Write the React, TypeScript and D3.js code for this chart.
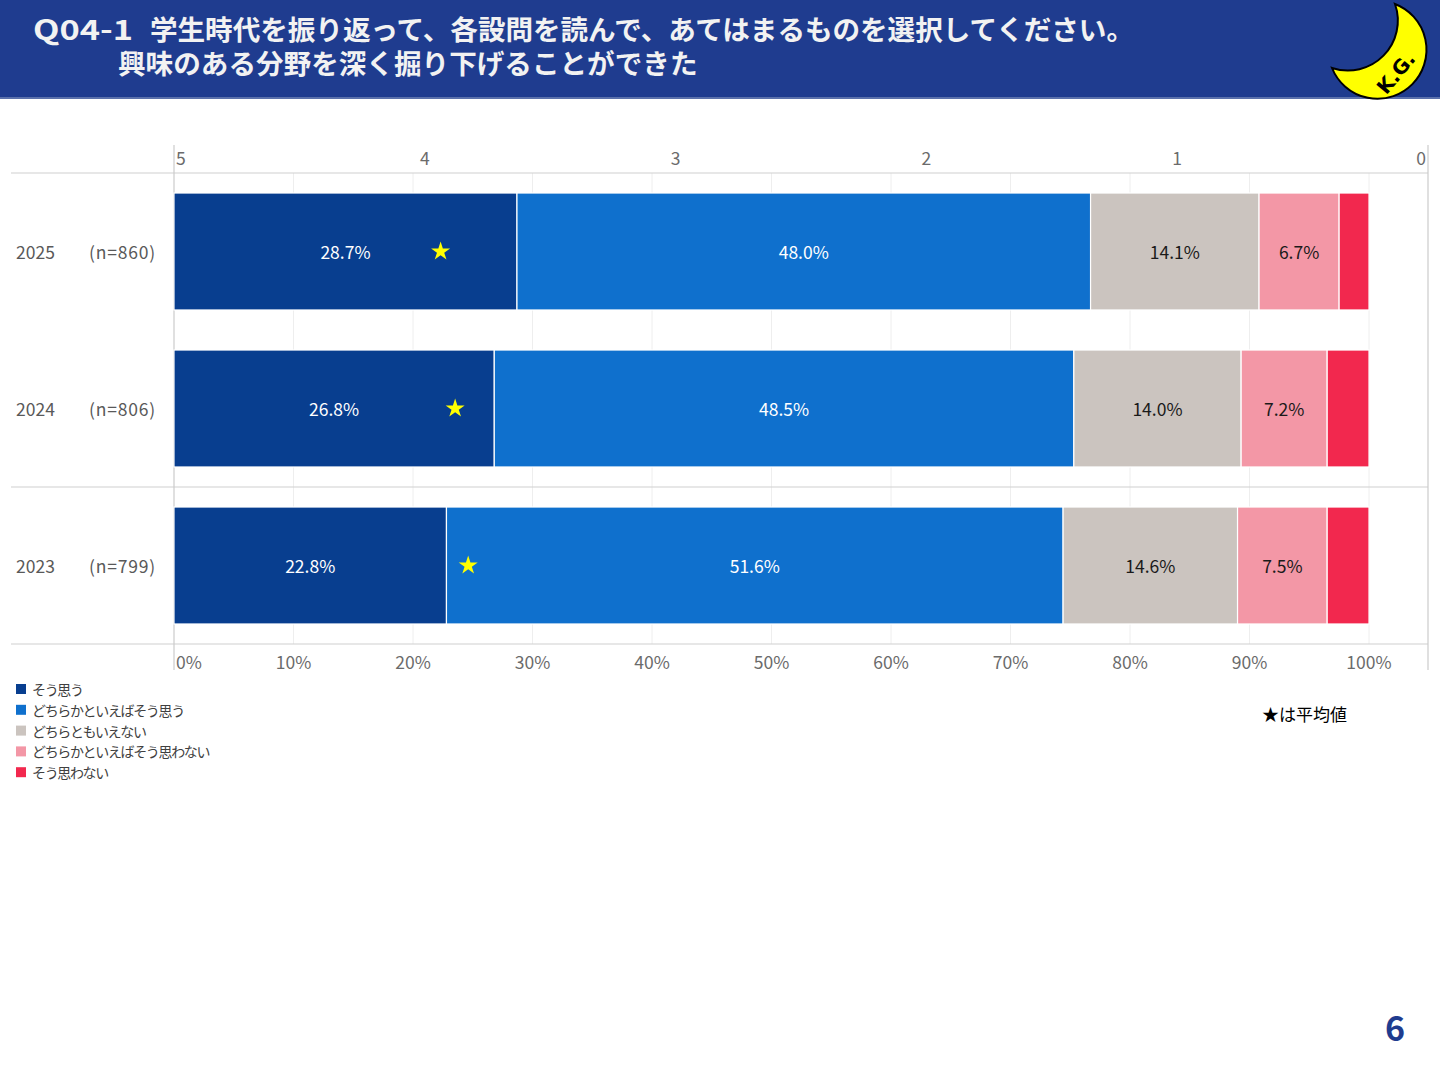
import React from "react";
import * as d3 from "d3";

const years = ["2025", "2024", "2023"];
const sampleSizes = ["(n=860)", "(n=806)", "(n=799)"];
const categories = [
  "そう思う",
  "どちらかといえばそう思う",
  "どちらともいえない",
  "どちらかといえばそう思わない",
  "そう思わない",
];
const scoreOf = [5, 4, 3, 2, 1];
const souOmou = [28.7, 26.8, 22.8];
const dochiraSou = [48.0, 48.5, 51.6];
const dochiraTomo = [14.1, 14.0, 14.6];
const dochiraNot = [6.7, 7.2, 7.5];
const souNot = [2.5, 3.5, 3.5];
const seriesValues = [souOmou, dochiraSou, dochiraTomo, dochiraNot, souNot];
const colors = ["#083e8f", "#0f70cd", "#cbc4bf", "#f397a6", "#f2284e"];
const labelColors = ["#ffffff", "#ffffff", "#1a1a1a", "#1a1a1a", "#1a1a1a"];
const pctTicks = [0, 10, 20, 30, 40, 50, 60, 70, 80, 90, 100];
const scoreTicks = [5, 4, 3, 2, 1, 0];

const FONT = "'Noto Sans CJK JP', 'Noto Sans', sans-serif";

export default function App() {
  const x = d3.scaleLinear().domain([0, 100]).range([174, 1369]);
  const xScore = d3.scaleLinear().domain([5, 0]).range([174, 1428]);
  const y = d3
    .scaleBand<string>()
    .domain(years)
    .range([173, 644])
    .paddingInner(0.255)
    .paddingOuter(0.1275);

  const rows = years.map((yr, i) => {
    const vals = seriesValues.map((s) => s[i]);
    const starts: number[] = [];
    let acc = 0;
    vals.forEach((v) => {
      starts.push(acc);
      acc += v;
    });
    const total = acc;
    const mean = d3.sum(vals.map((v, k) => v * scoreOf[k])) / total;
    return { yr, vals, starts, mean };
  });

  const star = d3.symbol().type(d3.symbolStar).size(112)();

  // crescent moon logo
  const tipTop = [1395, 4];
  const tipLeft = [1332, 68];
  const moonPath = `M${tipTop[0]},${tipTop[1]} A49,49 0 1 1 ${tipLeft[0]},${tipLeft[1]} A50,50 0 0 0 ${tipTop[0]},${tipTop[1]} Z`;

  return (
    <svg
      width={1440}
      height={1080}
      style={{ position: "absolute", left: 0, top: 0, background: "#ffffff" }}
      fontFamily={FONT}
    >
      <rect x={0} y={0} width={1440} height={1080} fill="#ffffff" />
      {/* header */}
      <rect x={0} y={0} width={1440} height={98} fill="#1f3c8f" />
      <rect x={0} y={97} width={1440} height={2} fill="#5b71ab" />
      <text x={33} y={40} fontSize={28} fontWeight="bold" fill="#f2f2f2" textLength={100} lengthAdjust="spacingAndGlyphs">
        Q04-1
      </text>
      <text x={150} y={40} fontSize={27.6} fontWeight="bold" fill="#f2f2f2" textLength={984} lengthAdjust="spacing">
        学生時代を振り返って、各設問を読んで、あてはまるものを選択してください。
      </text>
      <text x={118} y={74} fontSize={27.6} fontWeight="bold" fill="#f2f2f2">
        興味のある分野を深く掘り下げることができた
      </text>
      <path d={moonPath} fill="#ffff00" stroke="#000000" strokeWidth={2} />
      <text
        x={1396}
        y={73}
        fontSize={20}
        fontWeight="bold"
        fill="#000000"
        textAnchor="middle"
        dominantBaseline="central"
        fontFamily="'DejaVu Sans', sans-serif"
        transform="rotate(-50 1396 73)"
      >
        K.G.
      </text>

      {/* gridlines */}
      {pctTicks.slice(1).map((t) => (
        <line key={"g" + t} x1={x(t)} x2={x(t)} y1={173} y2={644} stroke="#eeeeee" strokeWidth={1} />
      ))}

      {/* frame lines */}
      {[173, 487, 644].map((yy) => (
        <line key={"h" + yy} x1={11} x2={1428} y1={yy} y2={yy} stroke="#d0d0d0" strokeWidth={1.2} />
      ))}
      <line x1={174} x2={174} y1={145} y2={670} stroke="#cccccc" strokeWidth={1.2} />
      <line x1={1428} x2={1428} y1={145} y2={670} stroke="#cccccc" strokeWidth={1.2} />

      {/* top axis */}
      {scoreTicks.map((t, i) => (
        <text
          key={"s" + t}
          x={i === 0 ? xScore(t) + 2 : i === scoreTicks.length - 1 ? xScore(t) - 2 : xScore(t)}
          y={157}
          fontSize={17.5}
          fill="#6b6b6b"
          dominantBaseline="central"
          textAnchor={i === 0 ? "start" : i === scoreTicks.length - 1 ? "end" : "middle"}
        >
          {t}
        </text>
      ))}

      {/* bottom axis */}
      {pctTicks.map((t, i) => (
        <text
          key={"p" + t}
          x={i === 0 ? x(t) + 2 : x(t)}
          y={661}
          fontSize={17.5}
          fill="#6b6b6b"
          dominantBaseline="central"
          textAnchor={i === 0 ? "start" : "middle"}
        >
          {t}%
        </text>
      ))}

      {/* bars */}
      {rows.map((r, i) => {
        const y0 = y(r.yr) as number;
        const bw = y.bandwidth();
        const cy = y0 + bw / 2;
        return (
          <g key={r.yr}>
            <text x={16} y={cy} fontSize={17.5} fill="#595959" dominantBaseline="central">
              {r.yr}
            </text>
            <text x={89} y={cy} fontSize={17.5} fill="#595959" dominantBaseline="central" letterSpacing={0.8}>
              {sampleSizes[i]}
            </text>
            {r.vals.map((v, k) => (
              <rect
                key={k}
                x={x(r.starts[k])}
                y={y0}
                width={x(r.starts[k] + v) - x(r.starts[k])}
                height={bw}
                fill={colors[k]}
                stroke="#ffffff"
                strokeWidth={1.2}
              />
            ))}
            {r.vals.map((v, k) =>
              v >= 5 ? (
                <text
                  key={"l" + k}
                  x={x(r.starts[k] + v / 2)}
                  y={cy}
                  fontSize={17.5}
                  fill={labelColors[k]}
                  textAnchor="middle"
                  dominantBaseline="central"
                >
                  {v.toFixed(1)}%
                </text>
              ) : null
            )}
            <path d={star as string} transform={`translate(${xScore(r.mean)},${cy})`} fill="#ffff00" />
          </g>
        );
      })}

      {/* legend */}
      {categories.map((c, k) => {
        const ly = 689 + k * 20.8;
        return (
          <g key={c}>
            <rect x={16} y={ly - 5} width={10} height={10} fill={colors[k]} />
            <text x={32} y={ly} fontSize={14} fill="#404040" dominantBaseline="central" letterSpacing={-1.35}>
              {c}
            </text>
          </g>
        );
      })}

      <text x={1262} y={713} fontSize={17} fill="#000000" dominantBaseline="central">
        ★は平均値
      </text>

      <text x={1395} y={1041} fontSize={34} fontWeight="bold" fill="#1f3c8f" textAnchor="middle">
        6
      </text>
    </svg>
  );
}
